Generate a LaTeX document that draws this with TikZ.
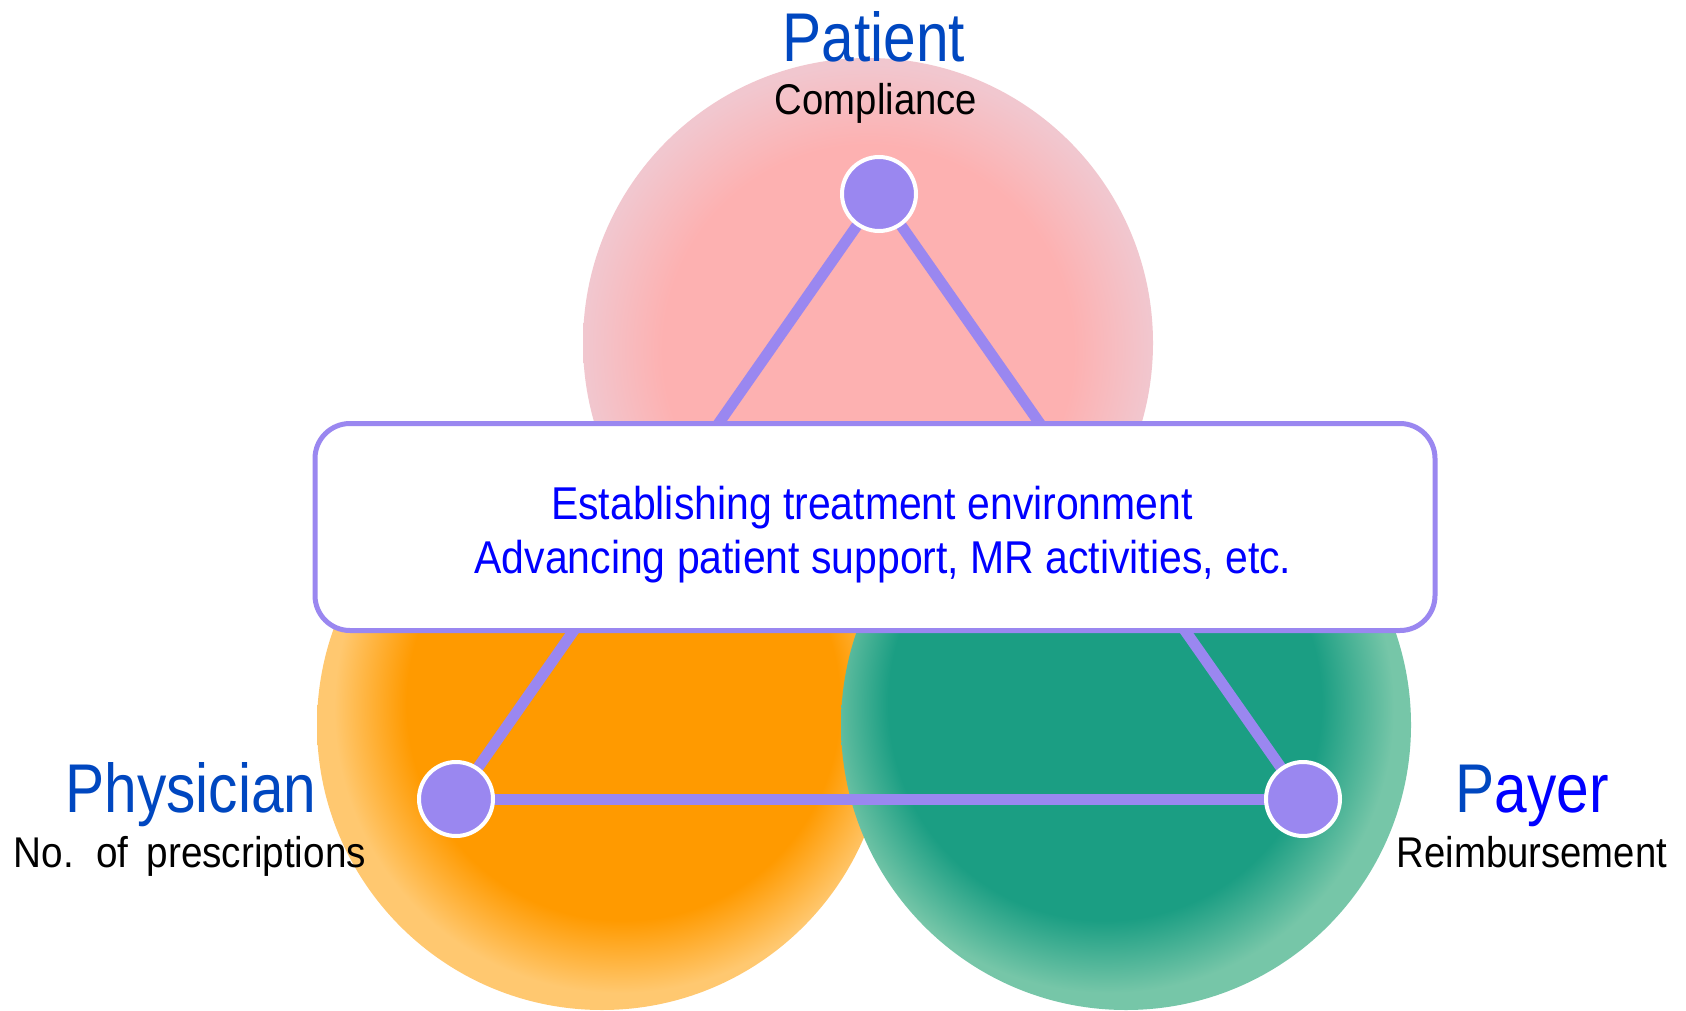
\documentclass[tikz,border=0pt]{standalone}
\usepackage{fontspec}
\setmainfont{Liberation Sans}
\newfontfamily\titlef[FakeStretch=0.85]{Liberation Sans}
\newfontfamily\subf[FakeStretch=0.89]{Liberation Sans}
\newfontfamily\subwf[FakeStretch=0.9,WordSpace=1.7]{Liberation Sans}
\definecolor{patc}{HTML}{FDB1B1}
\definecolor{pate}{HTML}{F1C7CF}
\definecolor{phyc}{HTML}{FF9A00}
\definecolor{phye}{HTML}{FFC870}
\definecolor{payc}{HTML}{1B9E83}
\definecolor{paye}{HTML}{76C6A8}
\definecolor{nodec}{HTML}{9A87F0}
\definecolor{titleblue}{HTML}{0047C0}
\definecolor{textblue}{HTML}{0000FF}
\pgfdeclareradialshading{patshade}{\pgfpoint{0bp}{-1bp}}{color(0bp)=(patc); color(18bp)=(patc); color(25bp)=(pate); color(50bp)=(pate)}
\pgfdeclareradialshading{physhade}{\pgfpoint{3bp}{3bp}}{color(0bp)=(phyc); color(19bp)=(phyc); color(25bp)=(phye); color(50bp)=(phye)}
\pgfdeclareradialshading{payshade}{\pgfpoint{-3bp}{3bp}}{color(0bp)=(payc); color(19bp)=(payc); color(25bp)=(paye); color(50bp)=(paye)}
\pgfdeclarelayer{bg}
\pgfdeclarelayer{lines}
\pgfsetlayers{bg,lines,main}
\tikzset{
  dot/.style={circle, minimum size=74pt, inner sep=0pt, fill=nodec, draw=white, line width=4pt},
  conn/.style={draw=nodec, line width=11pt},
  boxst/.style={rectangle, rounded corners=35pt, minimum width=1120pt, minimum height=207pt, draw=nodec, line width=5pt, fill=white},
  title/.style={anchor=base, inner sep=0pt, font=\titlef\fontsize{69}{80}\selectfont, text=titleblue},
  sub/.style={anchor=base, inner sep=0pt, font=\subf\fontsize{43}{50}\selectfont, text=black},
  boxtxt/.style={anchor=base, inner sep=0pt, font=\subf\fontsize{46}{54}\selectfont, text=textblue}
}
\begin{document}
\begin{tikzpicture}[x=1pt, y=-1pt]
\useasboundingbox (0,0) rectangle (1686,1011);
\begin{pgfonlayer}{bg}
\fill[white] (0,0) rectangle (1686,1011);
\shade[shading=patshade] (868,343) circle[radius=285];
\shade[shading=physhade] (602,725) circle[radius=285];
\shade[shading=payshade] (1126,725) circle[radius=285];
\end{pgfonlayer}
\node[dot] (pat) at (879,194) {};
\node[dot] (phy) at (456,799) {};
\node[dot] (pay) at (1303,799) {};
\begin{pgfonlayer}{lines}
\draw[conn] (pat.center) -- (phy.center);
\draw[conn] (pat.center) -- (pay.center);
\draw[conn] (phy.center) -- (pay.center);
\end{pgfonlayer}
\node[boxst] (box) at (875,527) {};
\node[boxtxt] (l1) at (872,519) {Establishing treatment environment};
\node[boxtxt] (l2) at (883,573) {Advancing patient support, MR activities, etc.};
\node[title] (tpat) at (874,62) {Patient};
\node[sub] (spat) at (876,115) {Compliance};
\node[title] (tphy) at (191,812) {Physician};
\node[sub, font=\subwf\fontsize{43}{50}\selectfont] (sphy) at (190,867) {No. of prescriptions};
\node[title] (tpay) at (1532,812) {P\textcolor{textblue}{ayer}};
\node[sub] (spay) at (1532,867) {Reimbursement};
\end{tikzpicture}
\end{document}
